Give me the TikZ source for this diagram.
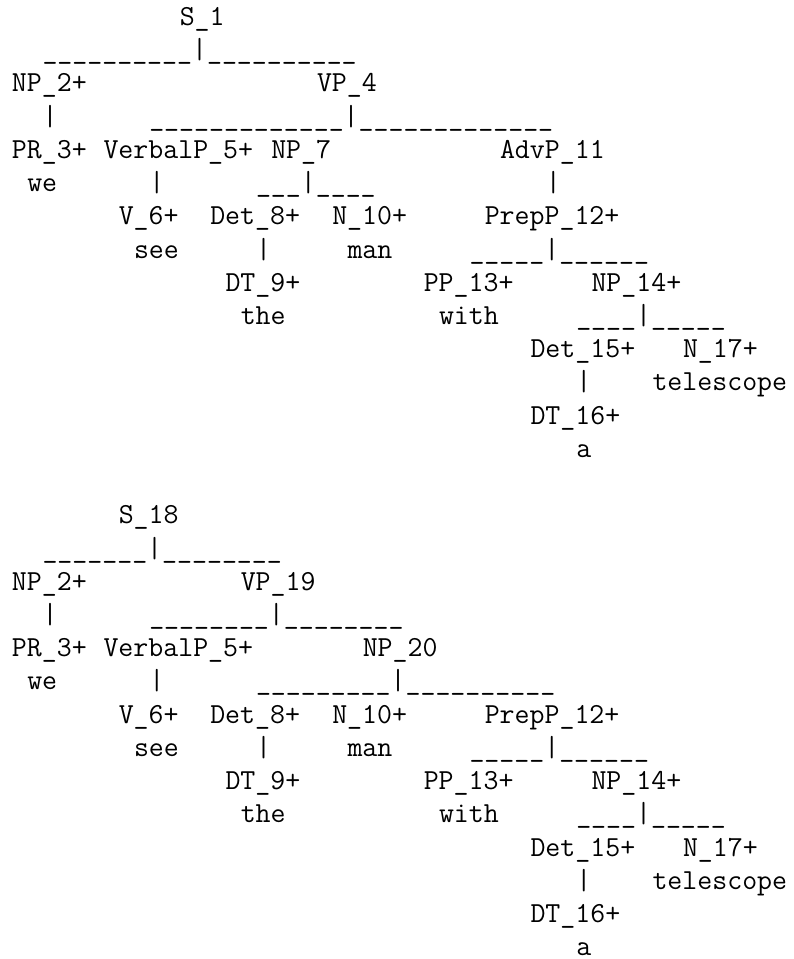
\documentclass[tikz,border=0pt]{standalone}
\usepackage{fontspec}
\setmonofont{Latin Modern Mono}
\begin{document}
% Two parse trees typeset as a monospace character grid:
% one column = 15.25pt, one row = 33.22pt, first baseline 25.5pt below the top.
\tikzset{
  glyphs/.style={anchor=base west, inner sep=0pt, outer sep=0pt,
    font=\fontsize{29.05}{33.22}\selectfont\ttfamily}
}
\newcommand\cell[4]{\node[glyphs] (#1) at ({12pt+#2*15.25pt},{-25.5pt-#3*33.22pt}) {#4};}
\begin{tikzpicture}
\useasboundingbox (0,0) rectangle (793pt,-959pt);

% ---------- first tree: PP attached under AdvP ----------
\cell{s1}{11}{0}{S\_1}
\cell{s1bar}{2}{1}{\_\_\_\_\_\_\_\_\_\_|\_\_\_\_\_\_\_\_\_\_}
\cell{np2a}{0}{2}{NP\_2+}
\cell{vp4}{20}{2}{VP\_4}
\cell{np2apipe}{2}{3}{|}
\cell{vp4bar}{9}{3}{\_\_\_\_\_\_\_\_\_\_\_\_\_|\_\_\_\_\_\_\_\_\_\_\_\_\_}
\cell{pr3a}{0}{4}{PR\_3+}
\cell{verb5a}{6}{4}{VerbalP\_5+}
\cell{np7}{17}{4}{NP\_7}
\cell{advp11}{32}{4}{AdvP\_11}
\cell{wea}{1}{5}{we}
\cell{verb5apipe}{9}{5}{|}
\cell{np7bar}{16}{5}{\_\_\_|\_\_\_\_}
\cell{advp11pipe}{35}{5}{|}
\cell{v6a}{7}{6}{V\_6+}
\cell{det8a}{13}{6}{Det\_8+}
\cell{n10a}{21}{6}{N\_10+}
\cell{prep12a}{31}{6}{PrepP\_12+}
\cell{seea}{8}{7}{see}
\cell{det8apipe}{16}{7}{|}
\cell{mana}{22}{7}{man}
\cell{prep12abar}{30}{7}{\_\_\_\_\_|\_\_\_\_\_\_}
\cell{dt9a}{14}{8}{DT\_9+}
\cell{pp13a}{27}{8}{PP\_13+}
\cell{np14a}{38}{8}{NP\_14+}
\cell{thea}{15}{9}{the}
\cell{witha}{28}{9}{with}
\cell{np14abar}{37}{9}{\_\_\_\_|\_\_\_\_\_}
\cell{det15a}{34}{10}{Det\_15+}
\cell{n17a}{44}{10}{N\_17+}
\cell{det15apipe}{37}{11}{|}
\cell{telescopea}{42}{11}{telescope}
\cell{dt16a}{34}{12}{DT\_16+}
\cell{aa}{37}{13}{a}

% ---------- second tree: PP attached under NP ----------
\cell{s18}{7}{15}{S\_18}
\cell{s18bar}{2}{16}{\_\_\_\_\_\_\_|\_\_\_\_\_\_\_\_}
\cell{np2b}{0}{17}{NP\_2+}
\cell{vp19}{15}{17}{VP\_19}
\cell{np2bpipe}{2}{18}{|}
\cell{vp19bar}{9}{18}{\_\_\_\_\_\_\_\_|\_\_\_\_\_\_\_\_}
\cell{pr3b}{0}{19}{PR\_3+}
\cell{verb5b}{6}{19}{VerbalP\_5+}
\cell{np20}{23}{19}{NP\_20}
\cell{web}{1}{20}{we}
\cell{verb5bpipe}{9}{20}{|}
\cell{np20bar}{16}{20}{\_\_\_\_\_\_\_\_\_|\_\_\_\_\_\_\_\_\_\_}
\cell{v6b}{7}{21}{V\_6+}
\cell{det8b}{13}{21}{Det\_8+}
\cell{n10b}{21}{21}{N\_10+}
\cell{prep12b}{31}{21}{PrepP\_12+}
\cell{seeb}{8}{22}{see}
\cell{det8bpipe}{16}{22}{|}
\cell{manb}{22}{22}{man}
\cell{prep12bbar}{30}{22}{\_\_\_\_\_|\_\_\_\_\_\_}
\cell{dt9b}{14}{23}{DT\_9+}
\cell{pp13b}{27}{23}{PP\_13+}
\cell{np14b}{38}{23}{NP\_14+}
\cell{theb}{15}{24}{the}
\cell{withb}{28}{24}{with}
\cell{np14bbar}{37}{24}{\_\_\_\_|\_\_\_\_\_}
\cell{det15b}{34}{25}{Det\_15+}
\cell{n17b}{44}{25}{N\_17+}
\cell{det15bpipe}{37}{26}{|}
\cell{telescopeb}{42}{26}{telescope}
\cell{dt16b}{34}{27}{DT\_16+}
\cell{ab}{37}{28}{a}
\end{tikzpicture}
\end{document}
